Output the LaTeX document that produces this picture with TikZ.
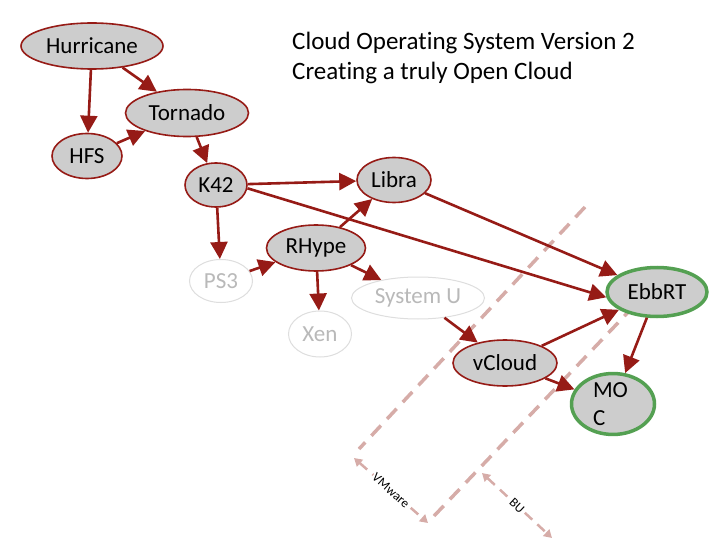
\documentclass[tikz,border=0pt]{standalone}
\usepackage{fontspec}
\setmainfont{Carlito}[Ligatures = CommonOff]
\usetikzlibrary{shapes.geometric,arrows.meta}
\definecolor{edgered}{RGB}{150,27,22}
\definecolor{nodegray}{RGB}{205,205,205}
\definecolor{ghostline}{RGB}{222,222,222}
\definecolor{ghosttext}{RGB}{185,185,185}
\definecolor{ebbgreen}{RGB}{84,160,82}
\definecolor{zonepink}{RGB}{214,172,168}

\begin{document}
\begin{tikzpicture}[
      x = 1pt, y = -1pt,
      sys/.style = {
        ellipse, draw = edgered, fill = nodegray, line width = 1.6pt,
        inner sep = 0pt, font = \fontsize{23}{28}\selectfont},
      old/.style = {draw = ghostline, fill = white, text = ghosttext, line width = 1pt},
      goal/.style = {draw = ebbgreen, line width = 3.5pt},
      link/.style = {draw = edgered, line width = 2.6pt,
        -{Triangle[length = 17pt, width = 17pt]}},
      zone/.style = {draw = zonepink, line width = 3.5pt,
        dash pattern = on 14pt off 9pt},
      span/.style = {draw = zonepink, line width = 2.5pt,
        dash pattern = on 10pt off 7pt,
        {Triangle[length = 8pt, width = 9pt]}-{Triangle[length = 8pt, width = 9pt]}},
      tag/.style = {fill = white, inner sep = 1pt, sloped,
        font = \fontsize{13}{15}\selectfont}
      ]
    \useasboundingbox (0,0) rectangle (720,540);
    % border lines
    \coordinate (vmTop) at (585,207);
    \coordinate (vmBot) at (359,449);
    \coordinate (buTop) at (634,306);
    \coordinate (buBot) at (434,516);
    \draw[zone] (vmTop) -- (vmBot);
    \draw[zone] (buTop) -- (buBot);
    \node[sys, minimum width = 142pt, minimum height = 46pt] (hur) at (92,46) {Hurricane}; % 0
    \node[sys, minimum width = 123pt, minimum height = 47pt] (tor) at (187,113) {Tornado}; % 1
    \node[sys, minimum width = 70pt, minimum height = 45pt] (hfs) at (87,156) {HFS}; % 2
    \node[sys, minimum width = 62pt, minimum height = 44pt] (k42) at (216,185) {K42}; % 3
    \node[sys, minimum width = 74pt, minimum height = 45pt] (libra) at (394,180) {Libra}; % 4
    \node[sys, minimum width = 99pt, minimum height = 46pt] (rhype) at (316,248) {RHype}; % 5
    \node[sys, old, minimum width = 63pt, minimum height = 43pt] (ps3) at (221,281) {PS3}; % 6
    \node[sys, old, minimum width = 63pt, minimum height = 46pt] (xen) at (320,334) {Xen}; % 7
    \node[sys, old, minimum width = 133pt, minimum height = 42pt] (sysu) at (418,298) {System U}; % 8
    \node[sys, minimum width = 104pt, minimum height = 46pt] (vcloud) at (505,363) {vCloud}; % 9
    \node[sys, goal, minimum width = 100pt, minimum height = 49pt] (ebbrt) at (657,292) {EbbRT}; % 10
    \node[sys, goal, minimum width = 83pt, minimum height = 48pt,
      text width = 40pt, align = left] (moc) at (613,404) {MO\\C}; % 11
    \node[anchor = north west, align = left, inner sep = 0pt,
      font = \fontsize{25}{30}\selectfont] (title) at (292,32)
      {Cloud Operating System Version 2\\Creating a truly Open Cloud};
    \draw[link] (hur)--(hfs);
    \draw[link] (hur)--(tor);
    \draw[link] (hfs)--(tor);
    \draw[link] (tor)--(k42);
    \draw[link] (k42)--(libra);
    \draw[link] (k42.-6)--(ebbrt.186);
    \draw[link] (k42)--(ps3);
    \draw[link] (ps3)--(rhype);
    \draw[link] (rhype)--(libra);
    \draw[link] (rhype)--(xen);
    \draw[link] (rhype)--(sysu);
    \draw[link] (libra)--(ebbrt);
    \draw[link] (sysu)--(vcloud);
    \draw[link] (vcloud)--(ebbrt);
    \draw[link] (vcloud)--(moc);
    \draw[link] (ebbrt)--(moc);
    % who builds what
    \coordinate (vmA) at (354,458);
    \coordinate (vmB) at (428,523);
    \coordinate (buA) at (482,473);
    \coordinate (buB) at (552,538);
    \draw[span] (vmA) -- node[tag] (vmware) {VMware} (vmB);
    \draw[span] (buA) -- node[tag] (bu) {BU} (buB);
  \end{tikzpicture}
\end{document}
